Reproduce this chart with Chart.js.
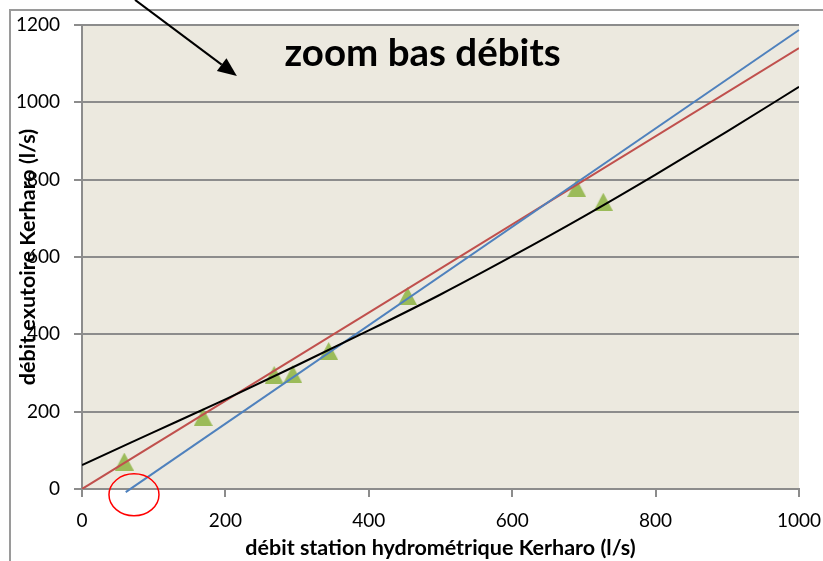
<!DOCTYPE html>
<html>
<head>
<meta charset="utf-8">
<script src="https://cdn.jsdelivr.net/npm/chart.js@4/dist/chart.umd.min.js"></script>
<style>
  html, body { margin: 0; padding: 0; background: #fff; }
  #wrap { width: 823px; height: 561px; position: relative; }
</style>
</head>
<body>
<div id="wrap"><canvas id="c" width="823" height="561"></canvas></div>
<script>
// Measured flows (l/s): hydrometric station vs. Kerharo outlet
const flowStation = [59, 169, 268, 294, 344, 454, 690, 727];
const flowOutlet  = [71, 186, 295, 297, 357, 499, 778, 743];

// Fitted relations
const curveX = [0, 100, 200, 300, 400, 500, 600, 700, 800, 900, 1000];
const curveY = [62, 147, 232, 320, 410, 503, 602, 705, 813, 925, 1040];
const redX = [0, 1000];
const redY = [0, 1140];
const blueX = [61, 1000];
const blueY = [-8, 1187];

// Axis ticks
const xTicks = [0, 200, 400, 600, 800, 1000];
const yTicks = [0, 200, 400, 600, 800, 1000, 1200];

const titleText = 'zoom bas débits';
const xTitle = 'débit station hydrométrique Kerharo (l/s)';
const yTitle = 'débit exutoire Kerharo (l/s)';

const pairs = (xs, ys) => xs.map((x, i) => ({ x, y: ys[i] }));

// Triangle marker drawn in its own box, centred on the value
function triangleMarker(w, h, color) {
  const cv = document.createElement('canvas');
  cv.width = w; cv.height = h;
  const g = cv.getContext('2d');
  g.fillStyle = color;
  g.beginPath();
  g.moveTo(w / 2, 0);
  g.lineTo(w, h);
  g.lineTo(0, h);
  g.closePath();
  g.fill();
  return cv;
}
const tri = triangleMarker(19, 18, '#9BBB59');

const GRID = '#8c8c8c';
const FONT = 'Lato, "DejaVu Sans", sans-serif';

const decor = {
  id: 'decor',
  beforeDraw(chart) {
    const { ctx, chartArea: a } = chart;
    ctx.save();
    ctx.fillStyle = '#ffffff';
    ctx.fillRect(0, 0, chart.width, chart.height);
    // outer frame
    ctx.strokeStyle = '#9a9a9a';
    ctx.lineWidth = 2;
    ctx.beginPath();
    ctx.moveTo(10, chart.height);
    ctx.lineTo(10, 10);
    ctx.lineTo(chart.width, 10);
    ctx.stroke();
    // plot area background
    ctx.fillStyle = '#ECE9DF';
    ctx.fillRect(a.left, a.top, a.right - a.left, a.bottom - a.top);
    ctx.restore();
  },
  afterDraw(chart) {
    const { ctx, scales: { x, y } } = chart;
    ctx.save();
    // title inside the plot
    ctx.fillStyle = '#000';
    ctx.font = 'bold 38.5px ' + FONT;
    ctx.textAlign = 'center';
    ctx.textBaseline = 'alphabetic';
    ctx.fillText(titleText, x.getPixelForValue(475), y.getPixelForValue(1094));

    // arrow
    const x0 = x.getPixelForValue(74), y0 = y.getPixelForValue(1265);
    const x1 = x.getPixelForValue(216), y1 = y.getPixelForValue(1068);
    const ang = Math.atan2(y1 - y0, x1 - x0);
    const L = 19, W = 8;
    const bx = x1 - L * Math.cos(ang), by = y1 - L * Math.sin(ang);
    ctx.strokeStyle = '#000';
    ctx.lineWidth = 2;
    ctx.beginPath();
    ctx.moveTo(x0, y0);
    ctx.lineTo(bx, by);
    ctx.stroke();
    ctx.fillStyle = '#000';
    ctx.beginPath();
    ctx.moveTo(x1, y1);
    ctx.lineTo(bx + W * Math.sin(ang), by - W * Math.cos(ang));
    ctx.lineTo(bx - W * Math.sin(ang), by + W * Math.cos(ang));
    ctx.closePath();
    ctx.fill();

    // red ellipse around the origin of the blue line
    const cx = x.getPixelForValue(72.5), cy = y.getPixelForValue(-15);
    ctx.strokeStyle = '#ff0000';
    ctx.lineWidth = 1.5;
    ctx.beginPath();
    ctx.ellipse(cx, cy, 25, 21, 0, 0, Math.PI * 2);
    ctx.stroke();
    ctx.restore();
  }
};

new Chart(document.getElementById('c'), {
  type: 'scatter',
  data: {
    datasets: [
      {
        label: 'mesures',
        data: pairs(flowStation, flowOutlet),
        pointStyle: tri,
        showLine: false,
        order: 4
      },
      {
        label: 'relation rouge',
        data: pairs(redX, redY),
        showLine: true,
        borderColor: '#C0504D',
        borderWidth: 2,
        pointRadius: 0,
        order: 3
      },
      {
        label: 'relation bleue',
        data: pairs(blueX, blueY),
        showLine: true,
        borderColor: '#4F81BD',
        borderWidth: 2,
        pointRadius: 0,
        clip: false,
        order: 2
      },
      {
        label: 'relation noire',
        data: pairs(curveX, curveY),
        showLine: true,
        borderColor: '#000000',
        borderWidth: 2,
        pointRadius: 0,
        cubicInterpolationMode: 'monotone',
        order: 1
      }
    ]
  },
  options: {
    responsive: false,
    animation: false,
    events: [],
    layout: { padding: { top: 25, right: 24, left: 0, bottom: 0 } },
    plugins: { legend: { display: false }, tooltip: { enabled: false } },
    scales: {
      x: {
        type: 'linear',
        min: 0, max: 1000,
        afterBuildTicks: s => { s.ticks = xTicks.map(v => ({ value: v })); },
        afterFit: s => { s.height = 72; s.paddingLeft = 0; s.paddingRight = 0; },
        grid: { drawOnChartArea: false, drawTicks: true, tickLength: 8, color: GRID, lineWidth: 2 },
        border: { display: true, color: GRID, width: 2 },
        ticks: { color: '#000', font: { family: FONT, size: 19 }, padding: 12, maxRotation: 0, callback: v => String(v) },
        title: { display: true, text: xTitle, color: '#000', font: { family: FONT, size: 21.5, weight: 'bold' }, padding: { top: 0, bottom: 0 } }
      },
      y: {
        type: 'linear',
        min: 0, max: 1200,
        afterBuildTicks: s => { s.ticks = yTicks.map(v => ({ value: v })); },
        afterFit: s => { s.width = 82; s.paddingTop = 0; s.paddingBottom = 0; },
        grid: { drawOnChartArea: true, drawTicks: true, tickLength: 8, color: GRID, lineWidth: 2 },
        border: { display: true, color: GRID, width: 2 },
        ticks: { color: '#000', font: { family: FONT, size: 19 }, padding: 14, callback: v => String(v) },
        title: { display: true, text: yTitle, color: '#000', font: { family: FONT, size: 21.5, weight: 'bold' }, padding: { top: 15, bottom: 0 } }
      }
    }
  },
  plugins: [decor]
});
</script>
</body>
</html>
